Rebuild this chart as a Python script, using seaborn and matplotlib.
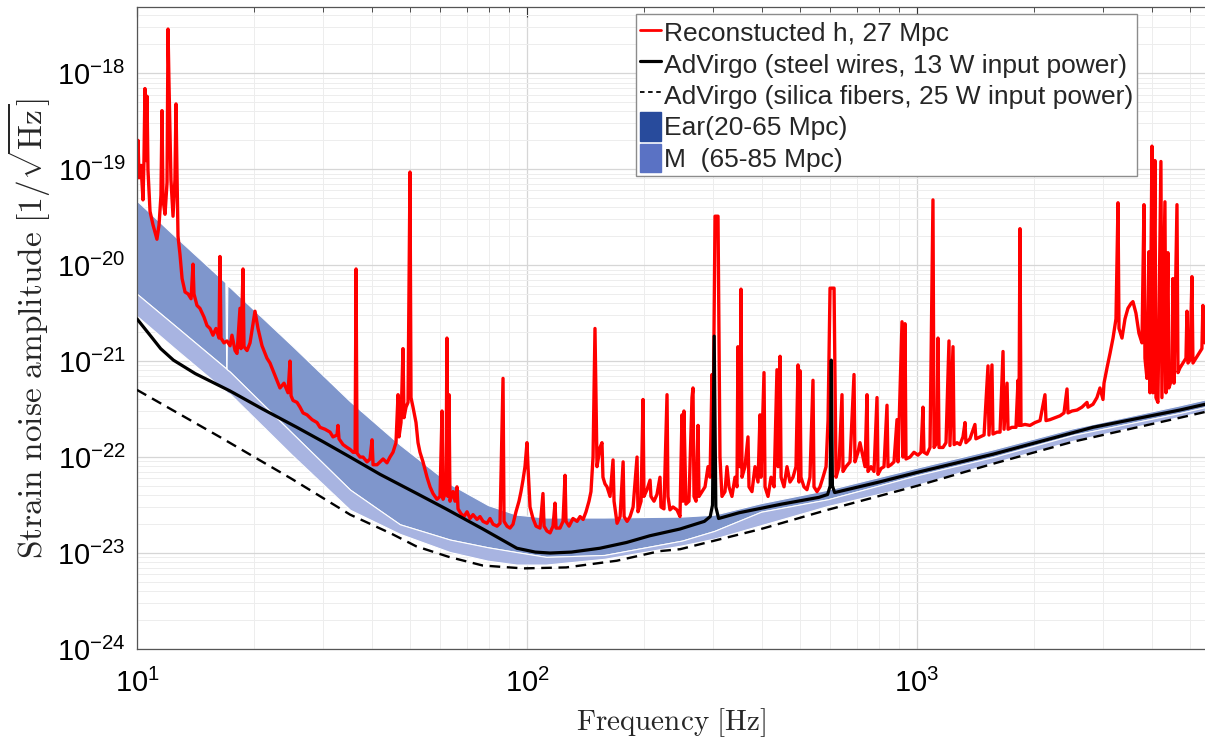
import numpy as np
import matplotlib
matplotlib.use('agg')
import matplotlib.pyplot as plt
from matplotlib.lines import Line2D
from matplotlib.patches import Patch
from matplotlib.ticker import FixedLocator, LogLocator, FuncFormatter, NullFormatter
import seaborn as sns

# --- data (freq in Hz, amplitude as log10 of 1/sqrt(Hz)) ---

# reconstructed h(t) sensitivity, 27 Mpc
red_freq = [10.0, 10.06, 10.12, 10.24, 10.36, 10.42, 10.48, 10.55, 10.61, 10.67,
            10.80, 10.99, 11.25, 11.39, 11.52, 11.59, 11.66, 11.80, 11.94, 12.01,
            12.08, 12.22, 12.37, 12.51, 12.59, 12.66, 12.74, 12.89, 13.05, 13.28,
            13.52, 13.76, 13.92, 14.00, 14.25, 14.50, 14.85, 15.12, 15.39, 15.66,
            15.94, 16.23, 16.32, 16.42, 16.71, 17.01, 17.32, 17.52, 17.84, 18.05,
            18.37, 18.48, 18.70, 18.81, 19.15, 19.49, 19.84, 20.07, 20.43, 20.92,
            21.54, 21.93, 22.59, 23.26, 23.82, 24.39, 24.68, 24.83, 25.12, 25.72,
            26.18, 26.65, 27.29, 28.11, 28.94, 29.46, 30.35, 31.26, 31.81, 32.57,
            32.76, 32.96, 33.75, 34.56, 35.18, 35.81, 36.24, 36.45, 36.66, 37.32,
            37.98, 38.89, 39.58, 40.06, 40.30, 41.26, 42.01, 42.76, 43.75, 44.53,
            45.33, 46.14, 46.70, 46.97, 47.53, 48.09, 48.38, 48.95, 49.54, 50.12,
            50.42, 51.02, 51.93, 52.55, 53.17, 54.12, 55.42, 56.41, 57.41, 58.78,
            59.84, 60.55, 60.91, 61.97, 62.34, 62.71, 63.10, 63.47, 64.61, 65.38,
            66.15, 66.55, 67.74, 68.95, 70.19, 71.44, 72.72, 74.45, 75.78, 77.14,
            78.98, 80.39, 81.83, 83.79, 85.28, 86.81, 87.32, 88.88, 90.44, 92.07,
            93.71, 95.39, 96.52, 97.66, 98.83, 100.0, 100.6, 101.8, 103.6, 105.5,
            108.0, 109.9, 110.6, 112.5, 114.6, 116.6, 118.0, 118.7, 121.5, 123.7,
            125.2, 125.9, 128.2, 131.2, 134.4, 136.8, 139.3, 141.7, 144.2, 145.9,
            147.7, 149.4, 151.2, 153.9, 155.7, 156.6, 158.5, 160.4, 163.3, 166.2,
            167.2, 170.2, 173.3, 176.4, 177.4, 180.6, 183.8, 187.1, 191.5, 192.6,
            196.1, 198.4, 199.5, 203.1, 206.8, 207.9, 211.7, 215.4, 219.3, 220.6,
            224.5, 228.6, 229.9, 232.6, 236.8, 242.4, 246.8, 249.7, 251.2, 252.6,
            255.6, 260.2, 264.9, 266.5, 268.1, 271.3, 274.5, 276.1, 281.1, 286.1,
            291.2, 294.7, 298.2, 300.0, 303.5, 308.9, 312.5, 316.2, 321.9, 325.7,
            329.6, 335.4, 341.5, 345.5, 347.5, 351.7, 353.8, 355.9, 362.2, 368.7,
            370.9, 377.5, 384.3, 391.2, 395.8, 398.1, 405.3, 407.7, 415.0, 422.5,
            430.1, 437.5, 440.4, 445.6, 448.3, 456.1, 464.2, 472.5, 481.0, 489.5,
            495.4, 498.3, 501.2, 504.1, 513.1, 522.3, 531.6, 541.2, 544.4, 554.2,
            564.1, 574.2, 584.6, 591.5, 598.5, 612.9, 620.1, 631.0, 642.3, 646.1,
            657.6, 673.4, 689.5, 693.5, 705.9, 714.3, 722.8, 735.8, 744.5, 748.9,
            762.3, 775.9, 789.8, 794.3, 808.6, 823.1, 837.8, 842.7, 857.8, 873.2,
            888.8, 894.1, 915.4, 920.8, 931.7, 937.2, 959.6, 982.4, 1006, 1024,
            1036, 1042, 1061, 1080, 1099, 1106, 1125, 1132, 1139, 1166,
            1187, 1208, 1215, 1237, 1245, 1267, 1289, 1312, 1328, 1335,
            1367, 1408, 1416, 1451, 1486, 1521, 1530, 1557, 1566, 1604,
            1633, 1662, 1672, 1702, 1712, 1752, 1794, 1816, 1826, 1837,
            1848, 1892, 1949, 2008, 2068, 2129, 2142, 2193, 2259, 2327,
            2382, 2425, 2439, 2497, 2572, 2649, 2729, 2745, 2827, 2894,
            2946, 2999, 3017, 3071, 3126, 3182, 3238, 3277, 3296, 3355,
            3415, 3475, 3538, 3579, 3643, 3708, 3775, 3820, 3842, 3888,
            3934, 3957, 4004, 4028, 4075, 4100, 4148, 4222, 4247, 4323,
            4349, 4400, 4426, 4505, 4532, 4560, 4642, 4669, 4725, 4809,
            4895, 4924, 4953, 5012, 5071, 5101, 5192, 5284, 5378, 5410,
            5477]
red_exp = [-19.06, -18.70, -19.09, -18.96, -19.32, -18.91, -18.16, -18.91, -18.24, -19.01,
           -19.44, -19.58, -19.73, -19.58, -19.27, -18.39, -19.32, -19.47, -19.14, -17.54,
           -18.11, -19.11, -19.49, -19.11, -18.32, -19.01, -19.70, -19.89, -20.14, -20.28,
           -20.30, -20.35, -19.99, -20.30, -20.42, -20.45, -20.54, -20.63, -20.66, -20.73,
           -20.66, -20.76, -19.91, -20.76, -20.81, -20.79, -20.84, -20.73, -20.89, -20.92,
           -20.45, -20.87, -20.04, -20.85, -20.89, -20.81, -20.61, -20.48, -20.66, -20.84,
           -20.97, -21.02, -21.15, -21.28, -21.23, -21.33, -21.00, -21.36, -21.41, -21.43,
           -21.48, -21.54, -21.56, -21.61, -21.64, -21.69, -21.71, -21.74, -21.79, -21.77,
           -21.67, -21.81, -21.87, -21.90, -21.92, -21.95, -21.95, -20.04, -21.96, -22.00,
           -22.00, -22.05, -22.02, -21.82, -22.08, -22.08, -22.05, -22.02, -22.06, -22.00,
           -21.95, -21.85, -21.35, -21.79, -21.64, -20.87, -21.59, -21.48, -21.43, -19.03,
           -21.38, -21.48, -21.64, -21.85, -21.95, -22.05, -22.21, -22.31, -22.38, -22.44,
           -22.41, -21.52, -22.44, -22.36, -20.76, -22.41, -21.35, -22.46, -22.36, -22.46,
           -22.31, -22.54, -22.59, -22.62, -22.57, -22.64, -22.60, -22.65, -22.62, -22.67,
           -22.69, -22.64, -22.70, -22.72, -22.69, -21.18, -22.67, -22.72, -22.74, -22.70,
           -22.57, -22.46, -22.36, -22.24, -22.10, -21.85, -22.10, -22.52, -22.64, -22.72,
           -22.74, -22.38, -22.72, -22.77, -22.79, -22.72, -22.48, -22.74, -22.74, -22.67,
           -22.19, -22.67, -22.72, -22.64, -22.67, -22.62, -22.65, -22.57, -22.46, -22.36,
           -22.00, -20.66, -22.10, -21.90, -21.85, -22.21, -22.28, -22.31, -22.41, -22.03,
           -22.46, -22.69, -22.62, -22.05, -22.62, -22.67, -22.62, -22.52, -22.00, -22.57,
           -22.46, -21.40, -22.41, -22.34, -22.24, -22.41, -22.46, -22.39, -22.21, -22.52,
           -22.54, -21.35, -22.41, -22.55, -22.52, -22.55, -22.62, -21.56, -22.46, -21.52,
           -22.49, -22.46, -21.38, -21.28, -22.41, -22.46, -21.67, -22.41, -22.36, -22.31,
           -22.10, -22.21, -21.14, -21.79, -19.49, -19.49, -22.00, -22.41, -22.36, -22.10,
           -22.31, -22.41, -22.21, -22.31, -20.85, -22.10, -20.25, -22.21, -22.10, -21.79,
           -22.31, -22.36, -22.10, -22.26, -21.56, -22.21, -21.12, -22.31, -22.41, -22.21,
           -22.31, -21.09, -22.10, -20.95, -22.21, -22.31, -22.10, -22.26, -22.21, -22.10,
           -21.04, -22.26, -21.10, -22.21, -22.31, -22.34, -22.21, -21.20, -22.31, -22.36,
           -22.31, -22.21, -22.10, -21.62, -20.24, -20.24, -22.21, -22.10, -21.35, -22.15,
           -22.10, -22.05, -21.14, -22.05, -21.95, -21.85, -21.95, -22.10, -21.35, -22.15,
           -22.10, -22.15, -21.38, -22.18, -22.12, -22.10, -21.46, -22.10, -22.08, -22.05,
           -21.61, -22.05, -20.59, -22.00, -20.61, -22.02, -22.00, -21.95, -21.98, -21.95,
           -21.48, -21.95, -21.97, -21.90, -19.32, -21.90, -21.85, -20.76, -21.90, -21.90,
           -21.85, -20.79, -21.88, -20.85, -21.87, -21.85, -21.87, -21.79, -21.64, -21.85,
           -21.81, -21.66, -21.81, -21.79, -21.77, -21.05, -21.77, -21.04, -21.76, -21.74,
           -21.74, -20.90, -21.71, -21.23, -21.71, -21.69, -21.69, -21.20, -21.67, -19.62,
           -21.67, -21.66, -21.67, -21.64, -21.62, -21.35, -21.62, -21.61, -21.59, -21.57,
           -21.54, -21.29, -21.54, -21.52, -21.51, -21.48, -21.43, -21.48, -21.45, -21.38,
           -21.28, -21.40, -21.23, -21.07, -20.92, -20.76, -20.56, -19.35, -20.66, -20.76,
           -20.56, -20.45, -20.40, -20.38, -20.50, -20.71, -20.81, -19.37, -20.97, -21.18,
           -19.86, -21.33, -18.76, -21.33, -18.91, -21.38, -21.43, -18.92, -21.38, -19.34,
           -21.33, -19.87, -21.28, -21.18, -20.14, -21.23, -19.37, -21.12, -21.07, -21.02,
           -20.97, -20.48, -21.02, -20.99, -20.12, -21.02, -20.97, -20.92, -20.87, -20.42,
           -20.81]

# AdVirgo design, steel wires, 13 W
steel_freq = [10, 10.8, 11.5, 12.4, 14.1, 17.3, 21, 25.7, 30, 35.2, 42, 52.2, 62,
              77.1, 94.2, 105, 114.6, 130, 153.8, 180, 206.5, 246.6, 285, 295, 299,
              302, 305, 310, 350, 450, 560, 590, 599, 603, 607, 615, 800, 1000, 1567,
              2825, 4720, 5477]
steel_exp = [-20.56, -20.73, -20.87, -20.99, -21.13, -21.31, -21.50, -21.69, -21.84,
             -22.00, -22.18, -22.38, -22.54, -22.75, -22.95, -22.99, -23.00, -22.99,
             -22.95, -22.89, -22.82, -22.75, -22.67, -22.62, -22.50, -20.74, -22.52,
             -22.64, -22.58, -22.49, -22.42, -22.39, -22.30, -20.99, -22.30, -22.37,
             -22.26, -22.16, -21.97, -21.69, -21.51, -21.45]

# AdVirgo design, silica fibers, 25 W
silica_freq = [10, 16.3, 25, 35.2, 45, 52, 63, 77, 97.7, 126, 170, 219, 247, 398, 590,
               1000, 1566, 2512, 4725, 5477]
silica_exp = [-21.30, -21.79, -22.23, -22.60, -22.80, -22.93, -23.04, -23.13, -23.16,
              -23.15, -23.08, -22.98, -22.96, -22.75, -22.55, -22.30, -22.07, -21.84,
              -21.59, -21.53]

# observing-run bands (early / mid)
band_freq = [10, 12.6, 16.85, 16.95, 17.05, 17.3, 25, 35.2, 47.2, 63.5, 79.4, 94, 112,
             158, 250, 302, 398, 590, 1000, 1566, 2512, 4725, 5477]
early_top = [-19.33, -19.71, -20.18, -21.28, -20.21, -20.23, -20.84, -21.42, -21.87,
             -22.28, -22.50, -22.60, -22.63, -22.63, -22.62, -22.60, -22.48, -22.34,
             -22.11, -21.92, -21.70, -21.46, -21.40]
early_mid = [-20.30, -20.64, -21.07, -21.08, -21.09, -21.11, -21.75, -22.34, -22.70,
             -22.86, -22.94, -22.99, -23.04, -23.02, -22.87, -22.77, -22.57, -22.44,
             -22.19, -22.00, -21.77, -21.54, -21.48]
mid_low = [-20.53, -20.88, -21.31, -21.32, -21.33, -21.34, -21.98, -22.55, -22.80,
           -22.99, -23.08, -23.12, -23.12, -23.06, -22.92, -22.85, -22.71, -22.51,
           -22.29, -22.06, -21.83, -21.58, -21.52]

x_ticks = [10, 100, 1000]
y_ticks = [1e-24, 1e-23, 1e-22, 1e-21, 1e-20, 1e-19, 1e-18]

labels = ['Reconstucted h, 27 Mpc',
          'AdVirgo (steel wires, 13 W input power)',
          'AdVirgo (silica fibers, 25 W input power)',
          'Ear(20-65 Mpc)',
          'M  (65-85 Mpc)']

# --- plotting ---
sns.set_theme(style='white')
plt.rcParams['font.family'] = ['Liberation Sans', 'DejaVu Sans']
# serif (computer modern) for axis labels, sans for tick labels via \mathsf
plt.rcParams['mathtext.fontset'] = 'custom'
plt.rcParams['mathtext.rm'] = 'cmr10'
plt.rcParams['mathtext.it'] = 'cmmi10'
plt.rcParams['mathtext.bf'] = 'cmb10'
plt.rcParams['mathtext.sf'] = 'Liberation Sans'
plt.rcParams['mathtext.fallback'] = 'cm'

fig = plt.figure(figsize=(12.05, 7.51), dpi=100)
ax = fig.add_axes([137 / 1205, 1 - 649 / 751, 1068 / 1205, 642 / 751])
ax.set_xscale('log')
ax.set_yscale('log')

bf = np.array(band_freq)
ax.fill_between(bf, 10 ** np.array(early_mid), 10 ** np.array(early_top),
                facecolor='#7f96cc', edgecolor='white', linewidth=0.8, zorder=1)
ax.fill_between(bf, 10 ** np.array(mid_low), 10 ** np.array(early_mid),
                facecolor='#a8b4e1', edgecolor='white', linewidth=0.8, zorder=1)

sns.lineplot(x=red_freq, y=10 ** np.array(red_exp), estimator=None, sort=False,
             color='#ff0000', linewidth=2.4, ax=ax, zorder=2)
sns.lineplot(x=silica_freq, y=10 ** np.array(silica_exp), estimator=None, sort=False,
             color='black', linewidth=1.7, linestyle=(0, (4.5, 2.8)), ax=ax, zorder=3)
sns.lineplot(x=steel_freq, y=10 ** np.array(steel_exp), estimator=None, sort=False,
             color='black', linewidth=2.3, ax=ax, zorder=4)

ax.set_xlim(10, 5477)
ax.set_ylim(1e-24, 10 ** -17.31)

ax.xaxis.set_major_locator(FixedLocator(x_ticks))
ax.yaxis.set_major_locator(FixedLocator(y_ticks))
ax.xaxis.set_minor_locator(LogLocator(base=10, subs=np.arange(2, 10), numticks=20))
ax.yaxis.set_minor_locator(LogLocator(base=10, subs=np.arange(2, 10), numticks=40))
fmt = FuncFormatter(lambda v, _: r'$\mathsf{10^{%d}}$' % int(round(np.log10(v))))
ax.xaxis.set_major_formatter(fmt)
ax.yaxis.set_major_formatter(fmt)
ax.xaxis.set_minor_formatter(NullFormatter())
ax.yaxis.set_minor_formatter(NullFormatter())

ax.grid(which='major', color='#d6d6d6', linewidth=0.9)
ax.grid(which='minor', color='#ededed', linewidth=0.7)
ax.set_axisbelow(True)

ax.tick_params(which='both', direction='in', top=True, right=False, colors='#333333',
               labelcolor='black')
ax.tick_params(which='major', length=7, width=0.8, labelsize=21)
ax.tick_params(axis='x', which='major', pad=14)
ax.tick_params(axis='y', which='major', pad=8)
ax.tick_params(which='minor', length=3.5, width=0.6)
for side in ['left', 'bottom', 'top']:
    ax.spines[side].set_color('#555555')
    ax.spines[side].set_linewidth(0.9)
ax.spines['right'].set_visible(False)

ax.set_xlabel(r'$\mathrm{Frequency}\ [\mathrm{Hz}]$', fontsize=21, labelpad=6)
ax.set_ylabel(r'$\mathrm{Strain\ noise\ amplitude}\ [1/\sqrt{\mathrm{Hz}}]$',
              fontsize=24, labelpad=4)

handles = [Line2D([], [], color='#ff0000', linewidth=2.0),
           Line2D([], [], color='black', linewidth=2.3),
           Line2D([], [], color='black', linewidth=1.3, linestyle=(0, (2.5, 2))),
           Patch(facecolor='#284b9c', edgecolor='#284b9c'),
           Patch(facecolor='#5a72c4', edgecolor='#5a72c4')]
leg = ax.legend(handles, labels, loc='upper left',
                bbox_to_anchor=(636 / 1205, 1 - 14 / 751), bbox_transform=fig.transFigure,
                fontsize=19, frameon=True, fancybox=False, framealpha=1,
                edgecolor='#8c8c8c', borderpad=0.15, borderaxespad=0,
                handlelength=0.8, handleheight=1.3, handletextpad=0.12,
                labelspacing=0.1)
leg.get_frame().set_linewidth(1.0)
leg.set_zorder(10)

fig.savefig('out.png', dpi=100)
